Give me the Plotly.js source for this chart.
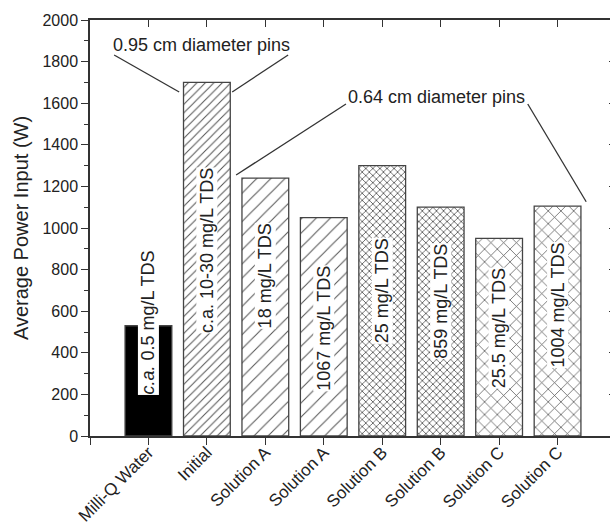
<!DOCTYPE html>
<html>
<head>
<meta charset="utf-8">
<script src="https://cdn.plot.ly/plotly-3.0.1.min.js"></script>
<style>
html, body { margin: 0; padding: 0; background: #fff; overflow: hidden; }
#chart { width: 620px; height: 529px; }
</style>
</head>
<body>
<div id="chart"></div>
<script>
// ---- data ----
const categories = ['Milli-Q Water', 'Initial', 'Solution A', 'Solution A', 'Solution B', 'Solution B', 'Solution C', 'Solution C'];
const power = [530, 1700, 1240, 1050, 1300, 1100, 950, 1105];
const tdsLabels = ['<i>c.a.</i> 0.5 mg/L TDS', 'c.a. 10-30 mg/L TDS', '18 mg/L TDS', '1067 mg/L TDS', '25 mg/L TDS', '859 mg/L TDS', '25.5 mg/L TDS', '1004 mg/L TDS'];
const labelY = [548, 894, 769, 519, 697, 649, 519, 630];
const groupNotes = ['0.95 cm diameter pins', '0.64 cm diameter pins'];
const yTicks = [0, 200, 400, 600, 800, 1000, 1200, 1400, 1600, 1800, 2000];

// ---- styling ----
const FONT = 'Liberation Sans, Arial, sans-serif';
const INK = '#222';
const AX = '#333';
const xIdx = categories.map((_, i) => i);

// fill style groups (index lists into the data arrays)
const groups = [
  { idx: [0], shape: '', size: 8, solidity: 0.3, color: '#000' },
  { idx: [1], shape: '/', size: 6, solidity: 0.17, color: '#fff' },
  { idx: [2, 3], shape: '/', size: 10, solidity: 0.1, color: '#fff' },
  { idx: [4, 5], shape: 'x', size: 5, solidity: 0.3, color: '#fff' },
  { idx: [6, 7], shape: 'x', size: 9, solidity: 0.16, color: '#fff' }
];

const traces = groups.map((g) => ({
  type: 'bar',
  x: g.idx.map((i) => xIdx[i]),
  y: g.idx.map((i) => power[i]),
  width: 0.8,
  marker: {
    color: g.color,
    line: { color: '#444', width: 1.3 },
    pattern: g.shape ? { shape: g.shape, size: g.size, solidity: g.solidity, fgcolor: '#555', bgcolor: '#fff' } : undefined
  },
  showlegend: false
}));

traces.push({
  type: 'scatter', x: [], y: [], xaxis: 'x2', yaxis: 'y2',
  hoverinfo: 'skip', showlegend: false
});

const annotations = xIdx.map((i) => ({
  x: i, y: labelY[i], xref: 'x', yref: 'y',
  text: tdsLabels[i], showarrow: false, textangle: -90,
  bgcolor: '#fff', borderpad: 0,
  font: { family: FONT, size: 18, color: INK }
}));
annotations.push({
  x: 0.905, y: 1880, xref: 'x', yref: 'y', text: groupNotes[0], showarrow: false,
  font: { family: FONT, size: 18, color: INK }
});
annotations.push({
  x: 4.93, y: 1630, xref: 'x', yref: 'y', text: groupNotes[1], showarrow: false,
  font: { family: FONT, size: 18, color: INK }
});

const lineStyle = { color: '#333', width: 1.3 };
const shapes = [
  { type: 'line', xref: 'x', yref: 'y', x0: -0.587, y0: 1832, x1: 0.526, y1: 1654, line: lineStyle },
  { type: 'line', xref: 'x', yref: 'y', x0: 2.39, y0: 1832, x1: 1.433, y1: 1654, line: lineStyle },
  { type: 'line', xref: 'x', yref: 'y', x0: 3.38, y0: 1596, x1: 1.50, y1: 1255, line: lineStyle },
  { type: 'line', xref: 'x', yref: 'y', x0: 6.49, y0: 1596, x1: 7.49, y1: 1126, line: lineStyle }
];

const layout = {
  width: 620, height: 529,
  margin: { l: 90, r: 4, t: 20, b: 93 },
  paper_bgcolor: '#fff', plot_bgcolor: '#fff',
  font: { family: FONT, color: INK, size: 16 },
  barmode: 'overlay',
  xaxis: {
    range: [-1, 8], tickmode: 'array',
    tickvals: [-1].concat(xIdx), ticktext: [''].concat(categories),
    tickangle: -45, ticks: 'outside', ticklen: 7, tickwidth: 1.3, tickcolor: AX,
    ticklabelstandoff: -9,
    showline: true, linecolor: AX, linewidth: 1.5, showgrid: false, zeroline: false,
    tickfont: { family: FONT, size: 17, color: INK }
  },
  yaxis: {
    range: [0, 2000], tickmode: 'array', tickvals: yTicks,
    ticks: 'outside', ticklen: 7, tickwidth: 1.3, tickcolor: AX,
    minor: { dtick: 100, ticks: 'outside', ticklen: 4, tickwidth: 1.2, tickcolor: AX },
    showline: true, linecolor: AX, linewidth: 1.5, showgrid: false, zeroline: false,
    tickfont: { family: FONT, size: 16, color: INK },
    title: { text: 'Average Power Input (W)', font: { family: FONT, size: 20, color: INK }, standoff: 8 }
  },
  xaxis2: {
    overlaying: 'x', side: 'top', anchor: 'y2', range: [-1, 8],
    tickmode: 'array', tickvals: xIdx, showticklabels: false,
    ticks: 'inside', ticklen: 7, tickwidth: 1.3, tickcolor: AX,
    showline: true, linecolor: AX, linewidth: 1.5, showgrid: false, zeroline: false
  },
  yaxis2: {
    overlaying: 'y', side: 'right', anchor: 'x2', range: [0, 2000],
    tickmode: 'array', tickvals: yTicks, showticklabels: false,
    ticks: 'inside', ticklen: 7, tickwidth: 1.3, tickcolor: AX,
    showline: true, linecolor: AX, linewidth: 1.5, showgrid: false, zeroline: false
  },
  annotations: annotations,
  shapes: shapes
};

Plotly.newPlot('chart', traces, layout, { displayModeBar: false });
</script>
</body>
</html>
